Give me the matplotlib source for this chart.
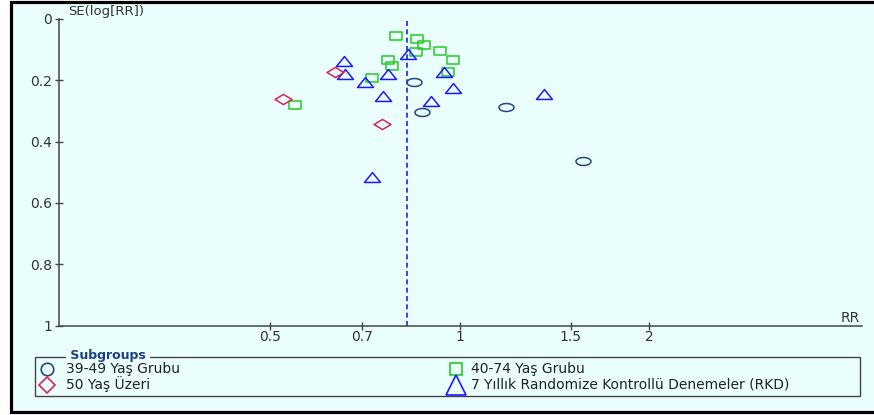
import numpy as np
import matplotlib.pyplot as plt
from matplotlib.path import Path
from matplotlib.patches import Rectangle
from matplotlib.lines import Line2D

plt.rcParams['font.family'] = ['DejaVu Sans']

# 39-49 Yas Grubu
rr_3949 = [0.846, 0.869, 1.183, 1.570]
se_3949 = [0.207, 0.302, 0.288, 0.462]
# 40-74 Yas Grubu
rr_4074 = [0.791, 0.854, 0.877, 0.850, 0.930, 0.975, 0.768, 0.781, 0.957, 0.724, 0.546]
se_4074 = [0.057, 0.065, 0.084, 0.108, 0.105, 0.134, 0.133, 0.153, 0.173, 0.191, 0.282]
# 50 Yas Uzeri
rr_50 = [0.633, 0.523, 0.751]
se_50 = [0.172, 0.261, 0.341]
# 7 Yillik RKD
rr_rkd = [0.654, 0.657, 0.828, 0.768, 0.707, 0.943, 0.975, 0.754, 0.900, 0.726, 1.360]
se_rkd = [0.136, 0.181, 0.114, 0.180, 0.207, 0.174, 0.225, 0.252, 0.269, 0.515, 0.245]

pooled_rr = 0.823
x_ticks = [0.5, 0.7, 1, 1.5, 2]
x_labels = ['0.5', '0.7', '1', '1.5', '2']
y_ticks = [0, 0.2, 0.4, 0.6, 0.8, 1]
y_labels = ['0', '0.2', '0.4', '0.6', '0.8', '1']

bg = '#ebfefe'


def shape(verts):
    return Path(verts + [verts[0]], closed=True)


t = np.linspace(0, 2 * np.pi, 40)
m_ellipse = Path(np.column_stack([np.cos(t), 0.53 * np.sin(t)]))
m_rect = shape([(-1, -0.66), (1, -0.66), (1, 0.66), (-1, 0.66)])
m_tri = shape([(0, 0.62), (-1, -0.62), (1, -0.62)])
m_diam = shape([(0, 0.6), (1, 0), (0, -0.6), (-1, 0)])

c_circ = '#23487f'
c_sq = '#22cc22'
c_dia = '#dd2255'
c_tri = '#1a1aff'

fig = plt.figure(figsize=(8.74, 4.15), dpi=100)
fig.patch.set_facecolor('white')
fig.add_artist(Rectangle((11 / 874, 3.5 / 415), 1.1, 409.5 / 415, transform=fig.transFigure,
                         facecolor=bg, edgecolor='black', linewidth=2.3, zorder=0))

ax = fig.add_axes([59 / 874, (415 - 325.5) / 415, 803 / 874, 306.5 / 415])
ax.set_facecolor('none')
ax.set_xscale('log')
ax.set_xlim(0.2307, 4.351)
ax.set_ylim(1, 0)
for s in ['top', 'right']:
    ax.spines[s].set_visible(False)
for s in ['left', 'bottom']:
    ax.spines[s].set_color('#444444')
    ax.spines[s].set_linewidth(1.1)
ax.set_xticks(x_ticks)
ax.set_xticklabels(x_labels)
ax.minorticks_off()
ax.set_yticks(y_ticks)
ax.set_yticklabels(y_labels)
ax.tick_params(direction='inout', length=6, width=1, color='#444444', labelcolor='#333333', labelsize=10)
ax.tick_params(axis='y', pad=2)
ax.tick_params(axis='x', pad=0.5)

ax.axvline(pooled_rr, color='#2020ee', linestyle=(0, (3, 2)), linewidth=1.2, zorder=1)

kw = dict(linestyle='none', markerfacecolor='none', markeredgewidth=1.1, zorder=3)
ax.plot(rr_4074, se_4074, marker=m_rect, markersize=8.8, markeredgecolor=c_sq, **kw)
ax.plot(rr_rkd, se_rkd, marker=m_tri, markersize=11.5, markeredgecolor=c_tri, **kw)
ax.plot(rr_50, se_50, marker=m_diam, markersize=12.2, markeredgecolor=c_dia, **kw)
ax.plot(rr_3949, se_3949, marker=m_ellipse, markersize=10.8, markeredgecolor=c_circ, **kw)

fig.text(68 / 874, 1 - 11.5 / 415, 'SE(log[RR])', fontsize=9.5, color='#333333', va='center', ha='left')
fig.text(860 / 874, 1 - 317.5 / 415, 'RR', fontsize=10, color='#333333', va='center', ha='right')

# legend box
fig.add_artist(Rectangle((35 / 874, 1 - 396 / 415), 825 / 874, 39.3 / 415, transform=fig.transFigure,
                         facecolor='none', edgecolor='#444444', linewidth=1.0))
fig.text(66 / 874, 1 - 355.5 / 415, ' Subgroups ', fontsize=9, fontweight='bold', color='#1c3c86',
         va='center', ha='left', bbox=dict(facecolor=bg, edgecolor='none', pad=0))

entries = [
    (47, 369, 'o', 9, c_circ, 66, '39-49 Yaş Grubu'),
    (47, 384.5, 'D', 8, c_dia, 66, '50 Yaş Üzeri'),
    (456, 369, 's', 9, c_sq, 471, '40-74 Yaş Grubu'),
    (456, 384.5, '^', 14, c_tri, 471, '7 Yıllık Randomize Kontrollü Denemeler (RKD)'),
]
for mx, my, mk, ms, mc, tx, label in entries:
    fig.add_artist(Line2D([mx / 874], [1 - my / 415], transform=fig.transFigure, marker=mk,
                          markersize=ms, markerfacecolor='none', markeredgecolor=mc, markeredgewidth=1.2))
    fig.text(tx / 874, 1 - my / 415, label, fontsize=10, color='#222222', va='center', ha='left')

fig.savefig('out.png', dpi=100, facecolor=fig.get_facecolor())
